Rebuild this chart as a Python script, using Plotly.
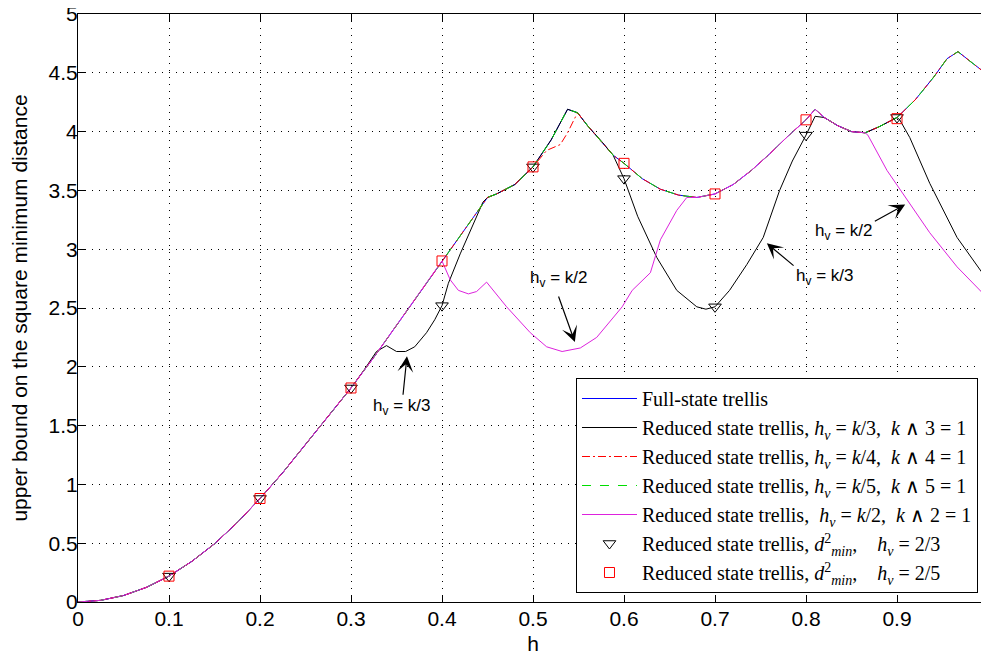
import plotly.graph_objects as go

# ---------------- data ----------------
full_h = [0, 0.025, 0.05, 0.075, 0.1, 0.125, 0.15, 0.175, 0.2, 0.225, 0.25, 0.275, 0.3, 0.325,
          0.35, 0.375, 0.4, 0.425, 0.45, 0.46, 0.48, 0.5, 0.52, 0.538, 0.549, 0.56, 0.575, 0.588,
          0.6, 0.62, 0.64, 0.66, 0.68, 0.7, 0.72, 0.74, 0.76, 0.78, 0.8, 0.81, 0.82, 0.835, 0.85,
          0.865, 0.88, 0.9, 0.92, 0.94, 0.955, 0.967, 0.98, 1.0]
full_d = [0, 0.014, 0.055, 0.124, 0.22, 0.345, 0.495, 0.675, 0.88, 1.1, 1.34, 1.58, 1.82, 2.08,
          2.35, 2.62, 2.9, 3.17, 3.44, 3.47, 3.55, 3.7, 3.93, 4.19, 4.16, 4.05, 3.92, 3.8,
          3.73, 3.6, 3.51, 3.46, 3.44, 3.47, 3.55, 3.67, 3.81, 3.96, 4.1, 4.19, 4.12, 4.05, 4.0,
          3.99, 4.04, 4.12, 4.27, 4.46, 4.62, 4.68, 4.6, 4.48]

k3_h = [0, 0.025, 0.05, 0.075, 0.1, 0.125, 0.15, 0.175, 0.2, 0.225, 0.25, 0.275, 0.3, 0.315,
        0.328, 0.339, 0.35, 0.36, 0.37, 0.383, 0.392, 0.4, 0.407, 0.42, 0.431, 0.445, 0.45, 0.46,
        0.48, 0.5, 0.52, 0.538, 0.549, 0.56, 0.575, 0.588, 0.6, 0.615, 0.636, 0.658, 0.68, 0.69,
        0.7, 0.716, 0.735, 0.753, 0.771, 0.785, 0.8, 0.81, 0.82, 0.835, 0.85, 0.865, 0.88, 0.9,
        0.903, 0.914, 0.936, 0.966, 1.0]
k3_d = [0, 0.014, 0.055, 0.124, 0.22, 0.345, 0.495, 0.675, 0.88, 1.1, 1.34, 1.58, 1.82, 1.98,
        2.13, 2.18, 2.13, 2.13, 2.17, 2.29, 2.4, 2.52, 2.71, 2.96, 3.16, 3.4, 3.44, 3.47,
        3.55, 3.7, 3.93, 4.19, 4.16, 4.05, 3.92, 3.8, 3.6, 3.28, 2.93, 2.65, 2.51, 2.49,
        2.51, 2.65, 2.87, 3.1, 3.5, 3.75, 3.97, 4.13, 4.12, 4.05, 4.0, 3.99, 4.04, 4.12,
        4.1, 3.95, 3.56, 3.1, 2.73]

k4_h = [0, 0.025, 0.05, 0.075, 0.1, 0.125, 0.15, 0.175, 0.2, 0.225, 0.25, 0.275, 0.3, 0.325,
        0.35, 0.375, 0.4, 0.425, 0.45, 0.46, 0.48, 0.5, 0.515, 0.53, 0.538, 0.545, 0.549, 0.56,
        0.575, 0.588, 0.6, 0.62, 0.64, 0.66, 0.68, 0.7, 0.72, 0.74, 0.76, 0.78, 0.8, 0.81, 0.82,
        0.835, 0.85, 0.865, 0.88, 0.9, 0.92, 0.94, 0.955, 0.967, 0.98, 1.0]
k4_d = [0, 0.014, 0.055, 0.124, 0.22, 0.345, 0.495, 0.675, 0.88, 1.1, 1.34, 1.58, 1.82, 2.08,
        2.35, 2.62, 2.9, 3.17, 3.44, 3.47, 3.55, 3.7, 3.84, 3.89, 3.99, 4.1, 4.16, 4.05,
        3.92, 3.8, 3.73, 3.6, 3.51, 3.46, 3.44, 3.47, 3.55, 3.67, 3.81, 3.96, 4.1, 4.19, 4.12,
        4.05, 4.0, 3.99, 4.04, 4.12, 4.27, 4.46, 4.62, 4.68, 4.6, 4.48]

k5_h = list(full_h)
k5_d = list(full_d)

k2_h = [0, 0.025, 0.05, 0.075, 0.1, 0.125, 0.15, 0.175, 0.2, 0.225, 0.25, 0.275, 0.3, 0.325,
        0.35, 0.375, 0.4, 0.409, 0.418, 0.429, 0.438, 0.449, 0.471, 0.497, 0.515, 0.532, 0.552,
        0.57, 0.598, 0.609, 0.629, 0.64, 0.658, 0.669, 0.68, 0.7, 0.72, 0.74, 0.76, 0.78, 0.8,
        0.81, 0.82, 0.835, 0.85, 0.865, 0.868, 0.889, 0.911, 0.936, 0.966, 1.0]
k2_d = [0, 0.014, 0.055, 0.124, 0.22, 0.345, 0.495, 0.675, 0.88, 1.1, 1.34, 1.58, 1.82, 2.08,
        2.35, 2.62, 2.9, 2.74, 2.65, 2.62, 2.64, 2.72, 2.51, 2.29, 2.17, 2.13, 2.16,
        2.25, 2.51, 2.65, 2.8, 3.08, 3.33, 3.44, 3.44, 3.47, 3.55, 3.67, 3.81, 3.96, 4.1,
        4.19, 4.12, 4.05, 4.0, 3.99, 3.97, 3.67, 3.42, 3.14, 2.85, 2.58]

mark_h = [0.1, 0.2, 0.3, 0.4, 0.5, 0.6, 0.7, 0.8, 0.9]
tri_d = [0.22, 0.88, 1.82, 2.52, 3.7, 3.6, 2.51, 3.97, 4.12]
sq_d = [0.22, 0.88, 1.82, 2.9, 3.7, 3.73, 3.47, 4.1, 4.11]

x_ticks = [0, 0.1, 0.2, 0.3, 0.4, 0.5, 0.6, 0.7, 0.8, 0.9, 1]
x_tick_text = ["0", "0.1", "0.2", "0.3", "0.4", "0.5", "0.6", "0.7", "0.8", "0.9", "1"]
y_ticks = [0, 0.5, 1, 1.5, 2, 2.5, 3, 3.5, 4, 4.5, 5]
y_tick_text = ["0", "0.5", "1", "1.5", "2", "2.5", "3", "3.5", "4", "4.5", "5"]

names = [
    "Full-state trellis",
    "Reduced state trellis, <i>h<sub>v</sub></i> = <i>k</i>/3,\u00a0 <i>k</i> \u2227 3 = 1",
    "Reduced state trellis, <i>h<sub>v</sub></i> = <i>k</i>/4,\u00a0 <i>k</i> \u2227 4 = 1",
    "Reduced state trellis, <i>h<sub>v</sub></i> = <i>k</i>/5,\u00a0 <i>k</i> \u2227 5 = 1",
    "Reduced state trellis,\u00a0 <i>h<sub>v</sub></i> = <i>k</i>/2,\u00a0 <i>k</i> \u2227 2 = 1",
    "Reduced state trellis, <i>d</i><sup>2</sup><sub><i>min</i></sub>,\u00a0\u00a0\u00a0 <i>h<sub>v</sub></i> = 2/3",
    "Reduced state trellis, <i>d</i><sup>2</sup><sub><i>min</i></sub>,\u00a0\u00a0\u00a0 <i>h<sub>v</sub></i> = 2/5",
]

# annotations: (label, text x, text y, tail x, tail y, head x, head y)
notes = [
    ("h<sub>v</sub> = k/3", 0.356, 1.66, 0.357, 1.75, 0.3615, 2.09),
    ("h<sub>v</sub> = k/2", 0.5275, 2.75, 0.5275, 2.61, 0.546, 2.21),
    ("h<sub>v</sub> = k/3", 0.820, 2.76, 0.788, 2.85, 0.757, 3.05),
    ("h<sub>v</sub> = k/2", 0.841, 3.15, 0.874, 3.23, 0.909, 3.38),
]

SANS = "Liberation Sans, Arial, sans-serif"

# ---------------- figure ----------------
fig = go.Figure()
fig.add_trace(go.Scatter(x=full_h, y=full_d, mode="lines", name=names[0],
                         line=dict(color="#0000ff", width=1)))
fig.add_trace(go.Scatter(x=k3_h, y=k3_d, mode="lines", name=names[1],
                         line=dict(color="#000000", width=1)))
fig.add_trace(go.Scatter(x=k4_h, y=k4_d, mode="lines", name=names[2],
                         line=dict(color="#ff0000", width=1, dash="8px,3px,2px,3px")))
fig.add_trace(go.Scatter(x=k5_h, y=k5_d, mode="lines", name=names[3],
                         line=dict(color="#00dd00", width=1, dash="9px,9px")))
fig.add_trace(go.Scatter(x=k2_h, y=k2_d, mode="lines", name=names[4],
                         line=dict(color="#dd22dd", width=1)))
fig.add_trace(go.Scatter(x=mark_h, y=tri_d, mode="markers", name=names[5],
                         marker=dict(symbol="triangle-down-open", size=11, color="black",
                                     line=dict(width=1, color="black"))))
fig.add_trace(go.Scatter(x=mark_h, y=sq_d, mode="markers", name=names[6],
                         marker=dict(symbol="square-open", size=10, color="red",
                                     line=dict(width=1, color="red"))))

for lab, tx, ty, ax_, ay_, hx, hy in notes:
    fig.add_annotation(x=tx, y=ty, xref="x", yref="y", text=lab, showarrow=False,
                       font=dict(family=SANS, size=17, color="black"))
    fig.add_annotation(x=hx, y=hy, xref="x", yref="y", ax=ax_, ay=ay_, axref="x", ayref="y",
                       text="", showarrow=True, arrowhead=3, arrowsize=2.2, arrowwidth=1.2,
                       arrowcolor="black")

axis_common = dict(showline=True, linecolor="black", linewidth=1, mirror="ticks",
                   ticks="inside", ticklen=7, tickcolor="black", tickwidth=1,
                   showgrid=True, gridcolor="black", gridwidth=1, griddash="1px,6px",
                   zeroline=False, automargin=False, ticklabeloverflow="allow",
                   tickfont=dict(family=SANS, size=21, color="black"))

fig.update_xaxes(range=[0, 1], tickvals=x_ticks, ticktext=x_tick_text,
                 ticklabelstandoff=-2,
                 title=dict(text="h", standoff=11,
                            font=dict(family=SANS, size=21, color="black")),
                 **axis_common)
fig.update_yaxes(range=[0, 5], tickvals=y_ticks, ticktext=y_tick_text,
                 ticklabelstandoff=-5,
                 title=dict(text="upper bound on the square minimum distance", standoff=18,
                            font=dict(family=SANS, size=21, color="black")),
                 **axis_common)

# the page body adds an 8 px offset, so the figure is sized to fit the window
fig.update_layout(
    width=981, height=647, autosize=False,
    margin=dict(l=70, r=1, t=6, b=53),
    plot_bgcolor="white", paper_bgcolor="white",
    showlegend=True,
    legend=dict(x=0.989, y=0.0153, xanchor="right", yanchor="bottom",
                bgcolor="white", bordercolor="black", borderwidth=1,
                font=dict(family="Liberation Serif, Times New Roman, serif", size=20, color="black"),
                tracegroupgap=0, itemwidth=55),
)

fig.write_html("out.html")
